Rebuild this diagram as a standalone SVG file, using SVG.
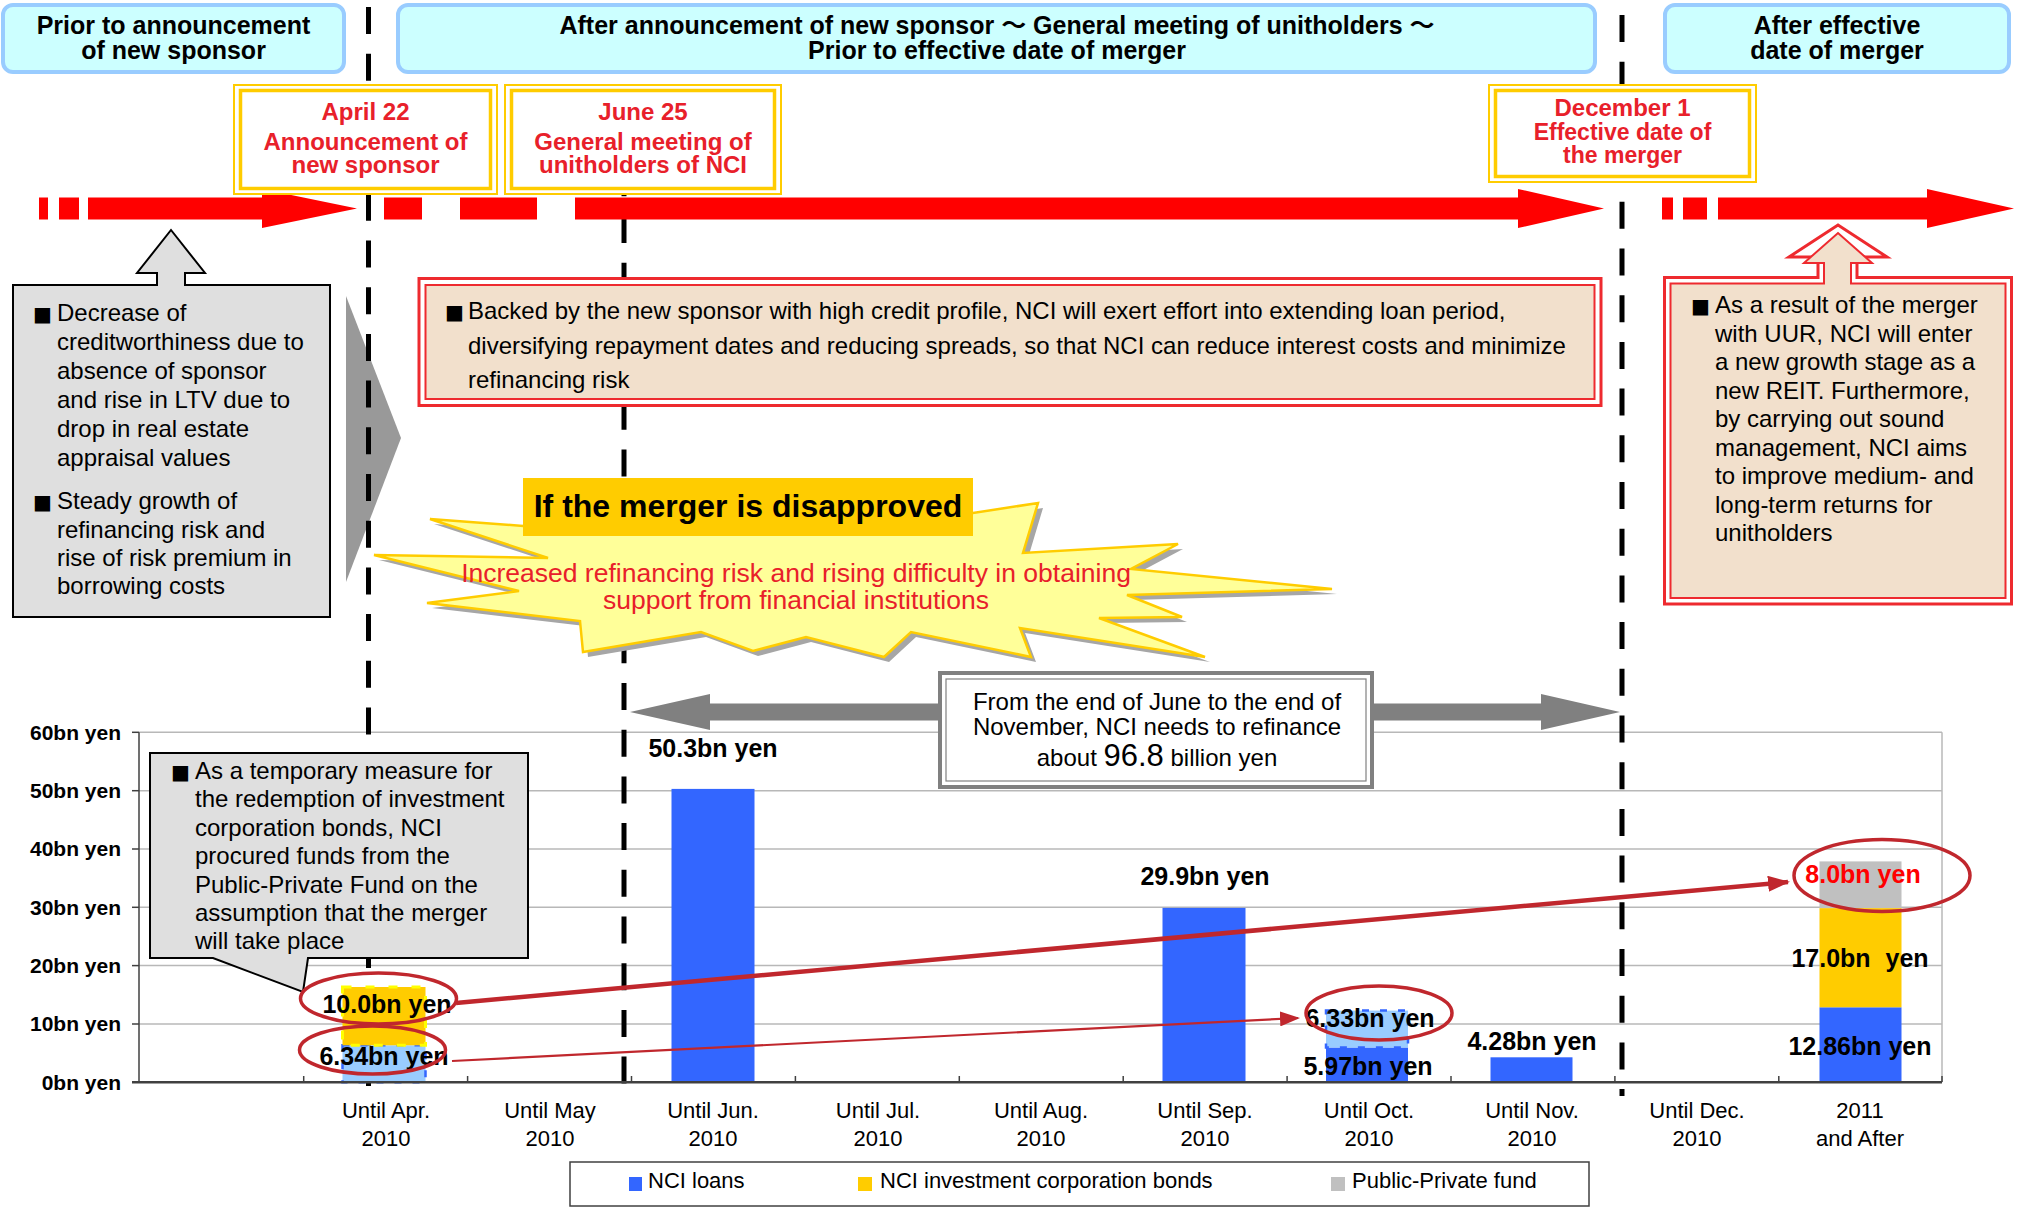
<svg xmlns="http://www.w3.org/2000/svg" width="2022" height="1207" viewBox="0 0 2022 1207">
<defs>
<style>
.hdr{fill:#CCFFFF;stroke:#99CCFF;stroke-width:4}
.hdrt{font-family:"Liberation Sans",Arial,"Noto Sans CJK JP",sans-serif;font-size:25px;font-weight:bold;fill:#000;text-anchor:middle}
.vl{stroke:#000;stroke-width:5;stroke-dasharray:27 19.7;fill:none}
.tl{fill:#FF0000}
.dbo{fill:#fff;stroke:#FFCC00;stroke-width:2}
.dbi{fill:#fff;stroke:#FFCC00;stroke-width:3.5}
.dt{font-family:"Liberation Sans",Arial,sans-serif;font-size:24px;font-weight:bold;fill:#E8202A;text-anchor:middle}
.body{font-family:"Liberation Sans",Arial,sans-serif;font-size:24px;fill:#000}
.bul{font-family:"DejaVu Sans",sans-serif;font-size:20px;fill:#000}
.gbox{fill:#DFDFDF;stroke:#000;stroke-width:2}
.rbo{fill:#fff;stroke:#EE2A2F;stroke-width:3}
.rbi{fill:#F2E0CC;stroke:#EE2A2F;stroke-width:2}
.grid{stroke:#B8B8B8;stroke-width:1.5}
.ylab{font-family:"Liberation Sans",Arial,sans-serif;font-size:21px;font-weight:bold;text-anchor:end;fill:#000}
.xlab{font-family:"Liberation Sans",Arial,sans-serif;font-size:22px;text-anchor:middle;fill:#000}
.blab{font-family:"Liberation Sans",Arial,sans-serif;font-size:25px;font-weight:bold;text-anchor:middle;fill:#000}
.loan{fill:#3366FF}
.bond{fill:#FFCC00}
.fund{fill:#C0C0C0}
.ell{fill:none;stroke:#C0272D;stroke-width:3.5}
.garr{fill:#808080}
.leg{font-family:"Liberation Sans",Arial,sans-serif;font-size:22px;fill:#000}
</style>
<marker id="ahThick" markerUnits="userSpaceOnUse" markerWidth="22" markerHeight="16" refX="20" refY="8" orient="auto"><path d="M0,0 L22,8 L0,16 z" fill="#C0272D"/></marker>
<marker id="ahThin" markerUnits="userSpaceOnUse" markerWidth="20" markerHeight="15" refX="18" refY="7.5" orient="auto"><path d="M0,0 L20,7.5 L0,15 z" fill="#C0272D"/></marker>
</defs>

<g id="header-prior">
<rect class="hdr" x="3" y="5" width="341" height="67" rx="10"/>
<text class="hdrt" x="173.5" y="34">Prior to announcement</text>
<text class="hdrt" x="173.5" y="59">of new sponsor</text>
</g>
<g id="header-after-announcement">
<rect class="hdr" x="398" y="5" width="1197" height="67" rx="10"/>
<text class="hdrt" x="997" y="34">After announcement of new sponsor ～ General meeting of unitholders ～</text>
<text class="hdrt" x="997" y="59">Prior to effective date of merger</text>
</g>
<g id="header-after-merger">
<rect class="hdr" x="1665" y="5" width="344" height="67" rx="10"/>
<text class="hdrt" x="1837" y="34">After effective</text>
<text class="hdrt" x="1837" y="59">date of merger</text>
</g>

<g id="chevron">
<polygon points="346,296 401,438 346,582" fill="#999999"/>
</g>

<g id="chart-grid">
<line class="grid" x1="139" y1="732.3" x2="1942" y2="732.3"/>
<line class="grid" x1="139" y1="790.7" x2="1942" y2="790.7"/>
<line class="grid" x1="139" y1="849" x2="1942" y2="849"/>
<line class="grid" x1="139" y1="907.3" x2="1942" y2="907.3"/>
<line class="grid" x1="139" y1="965.6" x2="1942" y2="965.6"/>
<line class="grid" x1="139" y1="1024" x2="1942" y2="1024"/>
<line class="grid" x1="1942" y1="732.3" x2="1942" y2="1082.3"/>
</g>

<g id="period-lines">
<line class="vl" x1="368.5" y1="7" x2="368.5" y2="1086"/>
<line class="vl" x1="624" y1="169.3" x2="624" y2="1090"/>
<line class="vl" x1="1622" y1="15" x2="1622" y2="1096"/>
</g>

<g id="timeline">
<rect class="tl" x="39" y="197.5" width="9" height="22"/>
<rect class="tl" x="59" y="197.5" width="20" height="22"/>
<polygon class="tl" points="88,197.5 262,197.5 262,189 357,208.5 262,228 262,219.5 88,219.5"/>
<rect class="tl" x="384" y="197.5" width="38" height="22"/>
<rect class="tl" x="460" y="197.5" width="77" height="22"/>
<polygon class="tl" points="575,197.5 1518,197.5 1518,189 1604,208.5 1518,228 1518,219.5 575,219.5"/>
<rect class="tl" x="1662" y="197.5" width="11" height="22"/>
<rect class="tl" x="1683" y="197.5" width="24" height="22"/>
<polygon class="tl" points="1718,197.5 1927,197.5 1927,189 2014,208.5 1927,228 1927,219.5 1718,219.5"/>
</g>

<g id="date-april22">
<rect class="dbo" x="234" y="85" width="263" height="109"/>
<rect class="dbi" x="240.5" y="90.5" width="250" height="98"/>
<text class="dt" x="365.5" y="120">April 22</text>
<text class="dt" x="365.5" y="150">Announcement of</text>
<text class="dt" x="365.5" y="173">new sponsor</text>
</g>
<g id="date-june25">
<rect class="dbo" x="505" y="85" width="276" height="109"/>
<rect class="dbi" x="511.5" y="90.5" width="263" height="98"/>
<text class="dt" x="643" y="120">June 25</text>
<text class="dt" x="643" y="150">General meeting of</text>
<text class="dt" x="643" y="173">unitholders of NCI</text>
</g>
<g id="date-dec1">
<rect class="dbo" x="1489" y="85" width="267" height="97"/>
<rect class="dbi" x="1495.5" y="90.5" width="254" height="86"/>
<text class="dt" x="1622.5" y="116">December 1</text>
<text class="dt" x="1622.5" y="140" font-size="23" style="font-size:23px">Effective date of</text>
<text class="dt" x="1622.5" y="163" font-size="23" style="font-size:23px">the merger</text>
</g>

<g id="box-before">
<path class="gbox" d="M13,285 H157 V273 H137 L171,230 L205,273 H185 V285 H330 V617 H13 Z"/>
<text class="bul" x="33" y="321">■</text>
<text class="body" x="57" y="321">Decrease of</text>
<text class="body" x="57" y="350">creditworthiness due to</text>
<text class="body" x="57" y="378.5">absence of sponsor</text>
<text class="body" x="57" y="407.5">and rise in LTV due to</text>
<text class="body" x="57" y="436.5">drop in real estate</text>
<text class="body" x="57" y="465.5">appraisal values</text>
<text class="bul" x="33" y="509">■</text>
<text class="body" x="57" y="509">Steady growth of</text>
<text class="body" x="57" y="537.5">refinancing risk and</text>
<text class="body" x="57" y="566">rise of risk premium in</text>
<text class="body" x="57" y="594">borrowing costs</text>
</g>

<g id="box-new-sponsor">
<rect class="rbo" x="419" y="278.5" width="1182" height="127"/>
<rect class="rbi" x="425.5" y="285" width="1169" height="114"/>
<text class="bul" x="445" y="319">■</text>
<text class="body" x="468" y="319">Backed by the new sponsor with high credit profile, NCI will exert effort into extending loan period,</text>
<text class="body" x="468" y="353.5">diversifying repayment dates and reducing spreads, so that NCI can reduce interest costs and minimize</text>
<text class="body" x="468" y="388">refinancing risk</text>
</g>

<g id="box-after-merger">
<path class="rbo" d="M1664.5,277.5 H1818 V257 H1789 L1838,225 L1887,257 H1857 V277.5 H2011.5 V604 H1664.5 Z"/>
<path class="rbi" d="M1670.5,283.5 H1824 V263 H1804 L1838,233 L1872,263 H1851 V283.5 H2005.5 V598 H1670.5 Z"/>
<text class="bul" x="1691" y="313">■</text>
<text class="body" x="1715" y="313">As a result of the merger</text>
<text class="body" x="1715" y="341.5">with UUR, NCI will enter</text>
<text class="body" x="1715" y="370">a new growth stage as a</text>
<text class="body" x="1715" y="398.5">new REIT. Furthermore,</text>
<text class="body" x="1715" y="427">by carrying out sound</text>
<text class="body" x="1715" y="455.5">management, NCI aims</text>
<text class="body" x="1715" y="484">to improve medium- and</text>
<text class="body" x="1715" y="512.5">long-term returns for</text>
<text class="body" x="1715" y="541">unitholders</text>
</g>

<g id="starburst">
<polygon fill="#A6A6A6" points="434,524 527,531 605,495 905,495 977,518 1043,508 1028,558 1183,549 1136,574 1337,594 1132,600 1187,622 1104,623 1210,662 1025,633 1036,662 916,637 889,662 811,642 758,656 706,637 588,657 585,626 432,608 524,596 379,560 553,563"/>
<polygon fill="#FFFF99" stroke="#FFCC00" stroke-width="2.5" points="430,519 523,526 600,490 900,490 973,513 1038,503 1023,553 1178,544 1131,569 1332,589 1127,595 1182,617 1099,618 1205,657 1020,628 1031,657 911,632 884,657 806,637 753,651 701,632 583,652 580,621 427,603 519,591 374,555 548,558"/>
<rect x="523" y="478" width="450" height="58" fill="#FFCC00"/>
<text x="748" y="517" font-family="Liberation Sans, Arial, sans-serif" font-size="32" font-weight="bold" text-anchor="middle" fill="#000">If the merger is disapproved</text>
<text x="796" y="582" font-family="Liberation Sans, Arial, sans-serif" font-size="26.5" text-anchor="middle" fill="#E8202A">Increased refinancing risk and rising difficulty in obtaining</text>
<text x="796" y="609" font-family="Liberation Sans, Arial, sans-serif" font-size="26.5" text-anchor="middle" fill="#E8202A">support from financial institutions</text>
</g>

<g id="chart-bars">
<rect x="342.5" y="1045.3" width="83" height="37" fill="#99CCFF" stroke="#3366FF" stroke-width="2.5" stroke-dasharray="7 11"/>
<rect x="342.5" y="987" width="83" height="58.3" class="bond" stroke="#FFFF00" stroke-width="3" stroke-dasharray="9 14"/>
<rect x="671.5" y="788.9" width="83" height="293.4" class="loan"/>
<rect x="1162.5" y="907.9" width="83" height="174.4" class="loan"/>
<rect x="1326" y="1047.5" width="82" height="34.8" class="loan"/>
<rect x="1326" y="1010.6" width="82" height="36.9" fill="#99CCFF" stroke="#3366FF" stroke-width="2.5" stroke-dasharray="7 11"/>
<rect x="1490.5" y="1057.3" width="82" height="25" class="loan"/>
<rect x="1819.5" y="1007.3" width="82" height="75" class="loan"/>
<rect x="1819.5" y="908.1" width="82" height="99.2" class="bond"/>
<rect x="1819.5" y="861.4" width="82" height="46.7" class="fund"/>
</g>

<g id="chart-axes">
<line x1="139" y1="732.3" x2="139" y2="1082.3" stroke="#404040" stroke-width="1.5"/>
<line x1="132" y1="1082.3" x2="1942" y2="1082.3" stroke="#404040" stroke-width="2.5"/>
<g stroke="#404040" stroke-width="1.5">
<line x1="132" y1="732.3" x2="139" y2="732.3"/>
<line x1="132" y1="790.7" x2="139" y2="790.7"/>
<line x1="132" y1="849" x2="139" y2="849"/>
<line x1="132" y1="907.3" x2="139" y2="907.3"/>
<line x1="132" y1="965.6" x2="139" y2="965.6"/>
<line x1="132" y1="1024" x2="139" y2="1024"/>
<line x1="303.7" y1="1076" x2="303.7" y2="1082"/>
<line x1="467.6" y1="1076" x2="467.6" y2="1082"/>
<line x1="631.5" y1="1076" x2="631.5" y2="1082"/>
<line x1="795.4" y1="1076" x2="795.4" y2="1082"/>
<line x1="959.3" y1="1076" x2="959.3" y2="1082"/>
<line x1="1123.2" y1="1076" x2="1123.2" y2="1082"/>
<line x1="1287.1" y1="1076" x2="1287.1" y2="1082"/>
<line x1="1451" y1="1076" x2="1451" y2="1082"/>
<line x1="1614.9" y1="1076" x2="1614.9" y2="1082"/>
<line x1="1778.8" y1="1076" x2="1778.8" y2="1082"/>
<line x1="1942" y1="1076" x2="1942" y2="1082"/>
</g>
<text class="ylab" x="121" y="739.5">60bn yen</text>
<text class="ylab" x="121" y="798">50bn yen</text>
<text class="ylab" x="121" y="856">40bn yen</text>
<text class="ylab" x="121" y="914.5">30bn yen</text>
<text class="ylab" x="121" y="973">20bn yen</text>
<text class="ylab" x="121" y="1031">10bn yen</text>
<text class="ylab" x="121" y="1089.5">0bn yen</text>
<text class="xlab" x="386" y="1118">Until Apr.</text><text class="xlab" x="386" y="1146">2010</text>
<text class="xlab" x="550" y="1118">Until May</text><text class="xlab" x="550" y="1146">2010</text>
<text class="xlab" x="713" y="1118">Until Jun.</text><text class="xlab" x="713" y="1146">2010</text>
<text class="xlab" x="878" y="1118">Until Jul.</text><text class="xlab" x="878" y="1146">2010</text>
<text class="xlab" x="1041" y="1118">Until Aug.</text><text class="xlab" x="1041" y="1146">2010</text>
<text class="xlab" x="1205" y="1118">Until Sep.</text><text class="xlab" x="1205" y="1146">2010</text>
<text class="xlab" x="1369" y="1118">Until Oct.</text><text class="xlab" x="1369" y="1146">2010</text>
<text class="xlab" x="1532" y="1118">Until Nov.</text><text class="xlab" x="1532" y="1146">2010</text>
<text class="xlab" x="1697" y="1118">Until Dec.</text><text class="xlab" x="1697" y="1146">2010</text>
<text class="xlab" x="1860" y="1118">2011</text><text class="xlab" x="1860" y="1146">and After</text>
</g>

<g id="bar-labels">
<text class="blab" x="713" y="757">50.3bn yen</text>
<text class="blab" x="1205" y="885">29.9bn yen</text>
<text class="blab" x="1370" y="1027">6.33bn yen</text>
<text class="blab" x="1368" y="1075">5.97bn yen</text>
<text class="blab" x="1532" y="1050">4.28bn yen</text>
<text class="blab" x="1860" y="1055">12.86bn yen</text>
<text class="blab" x="1860" y="967" style="word-spacing:8px">17.0bn yen</text>
<text class="blab" x="1863" y="883" style="fill:#FF0000">8.0bn yen</text>
<text class="blab" x="387" y="1013">10.0bn yen</text>
<text class="blab" x="384" y="1065">6.34bn yen</text>
</g>

<g id="refinance-span">
<polygon class="garr" points="630,712 710,694 710,703.5 942,703.5 942,720.5 710,720.5 710,730"/>
<polygon class="garr" points="1370,703.5 1541,703.5 1541,694 1620,712 1541,730 1541,720.5 1370,720.5"/>
<rect x="940" y="673" width="432" height="114" fill="#fff" stroke="#808080" stroke-width="4"/>
<rect x="946" y="679" width="420" height="102" fill="none" stroke="#808080" stroke-width="1.2"/>
<text class="body" x="1157" y="710" text-anchor="middle">From the end of June to the end of</text>
<text class="body" x="1157" y="734.5" text-anchor="middle">November, NCI needs to refinance</text>
<text class="body" x="1157" y="766" text-anchor="middle">about <tspan font-size="31">96.8</tspan> billion yen</text>
</g>

<g id="callout-temporary">
<path class="gbox" d="M150,753 H528 V958 H308 L303,992 L213,958 H150 Z"/>
<text class="bul" x="171" y="779">■</text>
<text class="body" x="195" y="779">As a temporary measure for</text>
<text class="body" x="195" y="807.3">the redemption of investment</text>
<text class="body" x="195" y="835.7">corporation bonds, NCI</text>
<text class="body" x="195" y="864">procured funds from the</text>
<text class="body" x="195" y="892.7">Public-Private Fund on the</text>
<text class="body" x="195" y="921">assumption that the merger</text>
<text class="body" x="195" y="949.3">will take place</text>
</g>

<g id="connectors">
<line x1="456" y1="1003" x2="1788" y2="882" stroke="#C0272D" stroke-width="4.5" marker-end="url(#ahThick)"/>
<line x1="452" y1="1061" x2="1298" y2="1018" stroke="#C0272D" stroke-width="2.2" marker-end="url(#ahThin)"/>
</g>

<g id="highlights">
<ellipse class="ell" cx="378.5" cy="998.5" rx="78" ry="25.5"/>
<ellipse class="ell" cx="372.5" cy="1050" rx="73" ry="24"/>
<ellipse class="ell" cx="1379" cy="1013" rx="73" ry="27"/>
<ellipse class="ell" cx="1882" cy="875.5" rx="88" ry="36"/>
</g>

<g id="legend">
<rect x="570" y="1162" width="1019" height="44" fill="#fff" stroke="#404040" stroke-width="1.5"/>
<rect x="629" y="1177" width="13" height="14" class="loan"/>
<text class="leg" x="648" y="1188">NCI loans</text>
<rect x="858" y="1177" width="14" height="14" class="bond"/>
<text class="leg" x="880" y="1188">NCI investment corporation bonds</text>
<rect x="1331" y="1177" width="14" height="14" class="fund"/>
<text class="leg" x="1352" y="1188">Public-Private fund</text>
</g>
</svg>
